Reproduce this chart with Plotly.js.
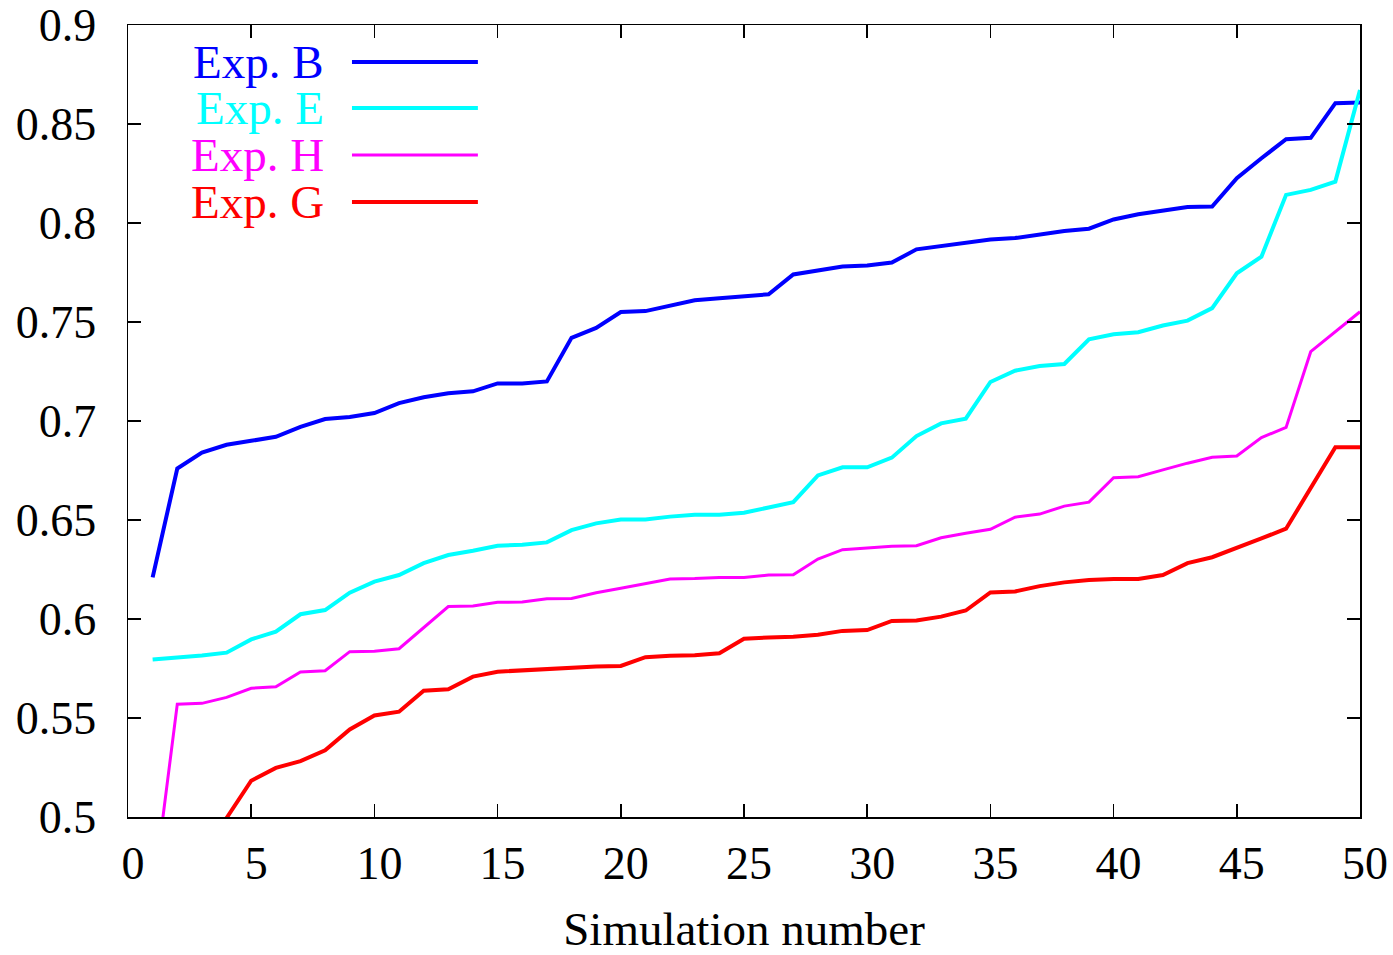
<!DOCTYPE html>
<html>
<head>
<meta charset="utf-8">
<script src="https://cdn.plot.ly/plotly-3.0.1.min.js"></script>
<style>html,body{margin:0;padding:0;background:#fff;}#chart{width:1393px;height:955px;}</style>
</head>
<body>
<div id="chart"></div>
<script>
const simNumbers = Array.from({length: 50}, (_, i) => i + 1);

const seriesNames = ["Exp. B", "Exp. E", "Exp. H", "Exp. G"];
const seriesColors = ["#0000ff", "#00ffff", "#ff00ff", "#ff0000"];
const seriesWidths = [4, 4, 3, 4];

const expB = [0.621, 0.676, 0.684, 0.688, 0.690, 0.692, 0.697, 0.701, 0.702, 0.704,
              0.709, 0.712, 0.714, 0.715, 0.719, 0.719, 0.720, 0.742, 0.747, 0.755,
              0.7555, 0.758, 0.761, 0.762, 0.763, 0.764, 0.774, 0.776, 0.778, 0.7785,
              0.780, 0.7867, 0.7884, 0.7905, 0.7917, 0.7924, 0.7944, 0.796, 0.7971, 0.8018,
              0.8044, 0.8064, 0.8081, 0.8083, 0.8226, 0.8327, 0.8423, 0.843, 0.8605, 0.8608];

const expE = [0.5796, 0.5804, 0.5816, 0.583, 0.5897, 0.5936, 0.6024, 0.6045, 0.6133, 0.6189,
              0.6222, 0.6282, 0.6323, 0.6345, 0.637, 0.6375, 0.6387, 0.6449, 0.6483, 0.6503,
              0.6503, 0.6517, 0.6527, 0.6527, 0.6537, 0.6563, 0.659, 0.6725, 0.6766, 0.6766,
              0.6815, 0.6924, 0.6988, 0.7012, 0.7197, 0.7254, 0.7278, 0.7288, 0.7413, 0.7438,
              0.7448, 0.7482, 0.7507, 0.757, 0.7746, 0.783, 0.8142, 0.8167, 0.8209, 0.8672];

const expH = [0.459, 0.557, 0.5574, 0.5604, 0.565, 0.5658, 0.5732, 0.5739, 0.5835, 0.5837,
              0.585, 0.5957, 0.6063, 0.6066, 0.6084, 0.6086, 0.6102, 0.6104, 0.6133, 0.6155,
              0.618, 0.6202, 0.6204, 0.621, 0.621, 0.6222, 0.6224, 0.6303, 0.635, 0.636,
              0.6367, 0.637, 0.641, 0.6433, 0.6453, 0.6514, 0.653, 0.657, 0.659, 0.6714,
              0.6719, 0.6753, 0.6787, 0.6817, 0.6823, 0.6916, 0.6968, 0.735, 0.7451, 0.7552];

const expG = [0.44, 0.465, 0.484, 0.4995, 0.5183, 0.5248, 0.5282, 0.5337, 0.5442, 0.5513,
              0.5532, 0.5638, 0.5645, 0.5709, 0.5734, 0.5741, 0.5743, 0.575, 0.576, 0.5763,
              0.5807, 0.5814, 0.5817, 0.5827, 0.590, 0.5907, 0.591, 0.592, 0.594, 0.5944,
              0.599, 0.5993, 0.6012, 0.6043, 0.6134, 0.6139, 0.6166, 0.6185, 0.6197, 0.6202,
              0.6202, 0.6222, 0.6282, 0.6312, 0.6357, 0.6407, 0.6456, 0.6665, 0.6867, 0.6867];

const seriesValues = [expB, expE, expH, expG];

const FONT = "Liberation Serif, Times New Roman, serif";

const traces = seriesValues.map((vals, i) => ({
  type: "scatter",
  mode: "lines",
  x: simNumbers,
  y: vals,
  name: seriesNames[i],
  line: {color: seriesColors[i], width: seriesWidths[i]},
  showlegend: false,
  hoverinfo: "x+y+name"
}));

// gnuplot-style key: text on the left, line sample on the right
const keyRowsY = [0.9533, 0.8952, 0.8359, 0.7765];
const annotations = seriesNames.map((n, i) => ({
  xref: "paper", yref: "paper",
  x: 0.1607, y: keyRowsY[i],
  xanchor: "right", yanchor: "middle",
  text: n, showarrow: false,
  font: {family: FONT, size: 47, color: seriesColors[i]}
}));
const shapes = seriesNames.map((n, i) => ({
  type: "line", xref: "paper", yref: "paper",
  x0: 0.1818, x1: 0.284, y0: keyRowsY[i], y1: keyRowsY[i],
  line: {color: seriesColors[i], width: seriesWidths[i]}
}));

const axisCommon = {
  showgrid: false,
  zeroline: false,
  showline: true,
  linecolor: "#000",
  linewidth: 1.5,
  mirror: "allticks",
  ticks: "inside",
  ticklen: 13,
  tickwidth: 1.5,
  tickcolor: "#000",
  tickfont: {family: FONT, size: 46, color: "#000"}
};

const layout = {
  width: 1393,
  height: 955,
  margin: {l: 128, r: 33, t: 25, b: 138},
  paper_bgcolor: "#fff",
  plot_bgcolor: "#fff",
  font: {family: FONT, size: 46, color: "#000"},
  xaxis: Object.assign({}, axisCommon, {
    range: [0, 50],
    tickmode: "linear", tick0: 0, dtick: 5,
    ticklabelstandoff: 5,
    ticklabelshift: 5,
    title: {text: "Simulation number", font: {family: FONT, size: 47, color: "#000"}, standoff: 37}
  }),
  yaxis: Object.assign({}, axisCommon, {
    range: [0.5, 0.9],
    tickmode: "linear", tick0: 0.5, dtick: 0.05,
    ticklabelstandoff: 21
  }),
  annotations: annotations,
  shapes: shapes,
  showlegend: false
};

Plotly.newPlot("chart", traces, layout, {displayModeBar: false, staticPlot: true});
</script>
</body>
</html>
